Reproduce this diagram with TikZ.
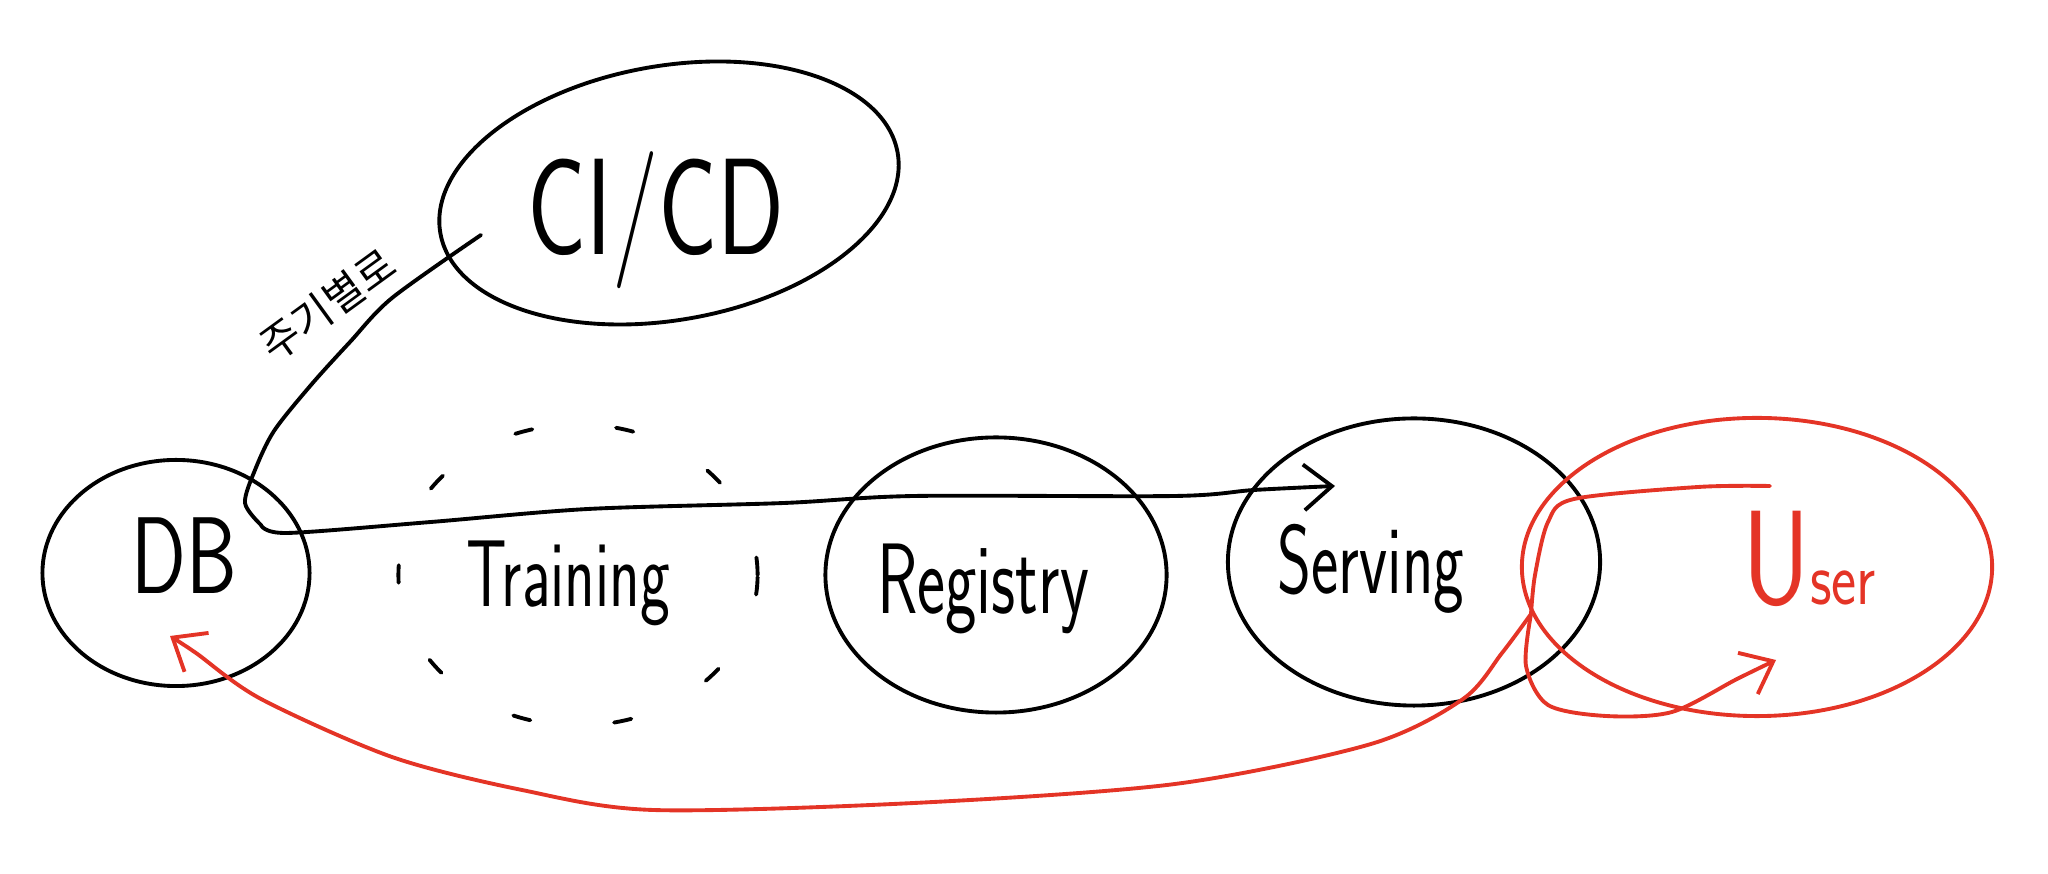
\documentclass[tikz,border=0pt]{standalone}
\usepackage{fontspec}
\newfontfamily\krfont{Noto Sans CJK KR}
\usetikzlibrary{shapes.geometric,arrows.meta}
\definecolor{sketchred}{RGB}{228,52,38}
\tikzset{
  blob/.style={draw, ellipse, line width=1.1pt, inner sep=0pt},
  word/.style={anchor=base, yscale=1.5},
  barb/.style={-{Straight Barb[length=8pt,width=13pt,line width=1.1pt]}},
}
\begin{document}
\begin{tikzpicture}[x=0.01cm, y=-0.01cm, line width=1.1pt, line cap=round, line join=round]
  \useasboundingbox (0,0) rectangle (2048,874);

  \node[blob, minimum width=4.64cm, minimum height=2.54cm, rotate=10] (cicd) at (669,193) {};
  \node[blob, minimum width=2.67cm, minimum height=2.26cm] (db) at (176,573) {};
  \node[blob, dash pattern=on 5pt off 24pt, minimum width=3.59cm, minimum height=3.01cm] (train) at (578,575) {};
  \node[blob, minimum width=3.41cm, minimum height=2.75cm] (reg) at (996,575) {};
  \node[blob, minimum width=3.72cm, minimum height=2.87cm] (serv) at (1414,562) {};
  \node[blob, sketchred, minimum width=4.70cm, minimum height=2.98cm] (user) at (1757,567) {};

  \node[word, font=\sffamily\fontsize{28}{28}\selectfont, yscale=0.93] (cicdtext) at (656,255) {CI/CD};
  \node[word, font=\sffamily\fontsize{23}{23}\selectfont, yscale=0.9] (dbtext) at (184,594) {DB};
  \node[word, font=\sffamily\fontsize{18}{18}\selectfont] (traintext) at (568,607) {Training};
  \node[word, font=\sffamily\fontsize{19}{19}\selectfont] (regtext) at (983,614) {Registry};
  \node[word, font=\sffamily\fontsize{18.5}{18.5}\selectfont] (servtext) at (1371,594) {Serving};
  \node[word, sketchred, yscale=0.85, font=\sffamily] (usertext) at (1809,605)
    {\fontsize{30}{30}\selectfont U\fontsize{17}{17}\selectfont ser};
  \node[font=\krfont\fontsize{12}{12}\selectfont, rotate=36] (period) at (328,305) {주기별로};

  \coordinate (cistart) at (481,235);
  \coordinate (bend) at (261,525);
  \coordinate (servtip) at (1335,486);
  \draw plot[smooth] coordinates {(cistart) (392,298) (350,342) (311,385) (274,431) (255,470) (245,503) (bend)};
  \draw[barb] plot[smooth] coordinates {(bend) (287,533) (431,522) (588,509) (784,503) (914,496) (1175,496) (1254,490) (servtip)};

  \coordinate (redstart) at (1770,486);
  \coordinate (fork) at (1531,614);
  \coordinate (dbtip) at (170,636);
  \coordinate (usertip) at (1776,660);
  \draw[sketchred] plot[smooth] coordinates {(redstart) (1698,487) (1574,499) (1548,522) (1535,575) (fork)};
  \draw[sketchred, barb] plot[smooth] coordinates {(fork) (1502,653) (1463,699) (1371,744) (1175,784) (914,803) (653,810) (522,790) (392,757) (261,699) (196,653) (dbtip)};
  \draw[sketchred, barb] plot[smooth] coordinates {(fork) (1526,666) (1548,705) (1606,716) (1672,712) (1737,679) (usertip)};
\end{tikzpicture}
\end{document}
